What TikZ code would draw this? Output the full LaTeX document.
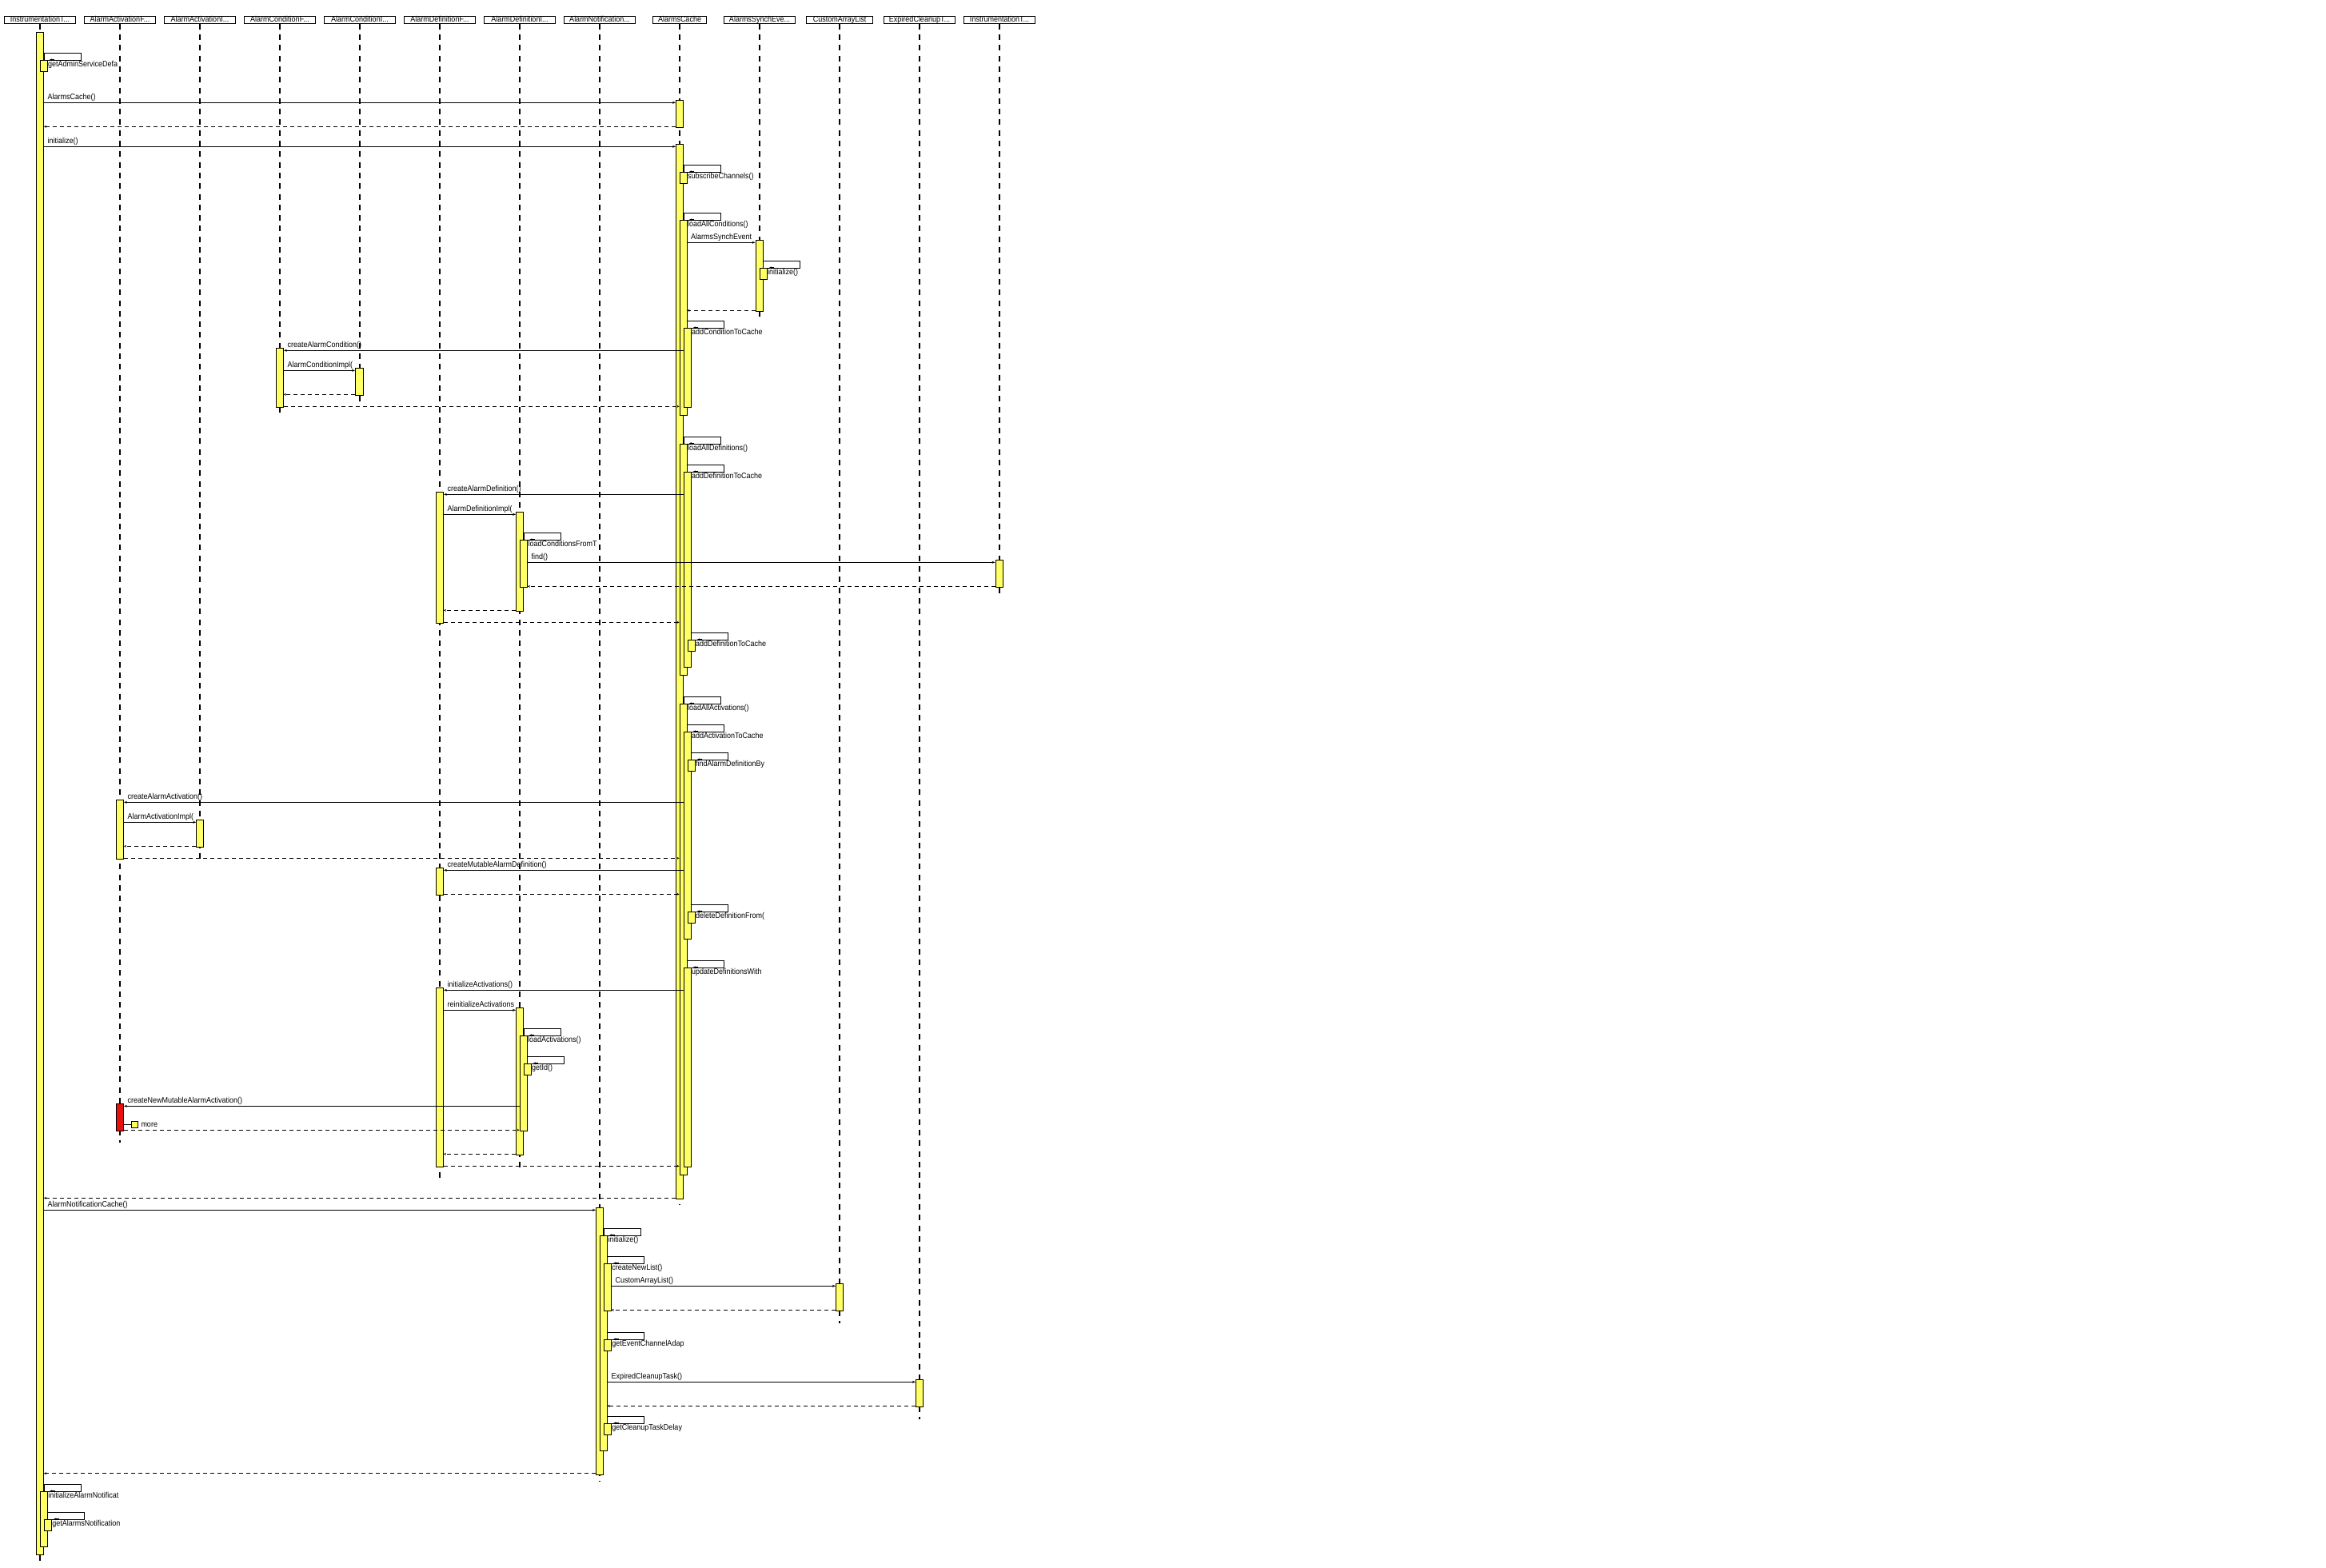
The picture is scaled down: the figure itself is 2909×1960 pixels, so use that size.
\documentclass[tikz,border=0pt]{standalone}
\usepackage{fontspec}
\setmainfont{Liberation Sans}[FakeStretch=0.9]
\usetikzlibrary{arrows.meta,calc,fit}
\definecolor{actyel}{RGB}{255,255,102}
\definecolor{actred}{RGB}{235,16,16}
\tikzset{
 head/.style={draw,line width=0.9pt,inner sep=0pt,minimum height=8.6pt,text height=7.2pt,text depth=1.4pt,font=\fontsize{10}{11}\selectfont,anchor=center},
 life/.style={line width=2pt,dash pattern=on 7pt off 6.3pt},
 act/.style={draw,fill=actyel,line width=0.9pt,inner sep=0pt},
 redact/.style={draw,fill=actred,line width=0.9pt,inner sep=0pt},
 msg/.style={line width=0.9pt,-{Stealth[length=4pt,width=3pt]}},
 ret/.style={line width=1.1pt,dash pattern=on 5pt off 4pt,-{Stealth[length=3pt,width=3pt]}},
 lab/.style={inner sep=0pt,font=\fontsize{10}{11}\selectfont,anchor=base west},
 loopbox/.style={draw,line width=0.9pt},
 looptip/.style={line width=0.9pt,-{Stealth[length=3pt,width=3pt]}}
}
% activation box: [style] name, x1, y1, x2, y2
\newcommand{\actbox}[6][act]{\node[#1,fit={(#3,#4)(#5,#6)}] (#2) {};}
% self call: parent, nested, ytop, text
\newcommand{\selfc}[4]{%
 \draw[loopbox] (#1.east |- 0,#3) rectangle ++(46,9);
 \draw[looptip] ($(#2.north east)+(9,0)$) -- ($(#2.north east)+(2.5,0)$);
 \begin{scope}\clip (#2.north east) rectangle ++(90,13);
 \node[lab] (#2lab) at ($(#2.north east)+(0.5,9)$) {#4};\end{scope}}
% message label: name, xleft, xright, y, text
\newcommand{\mlab}[5]{\begin{scope}\clip (#2,#4-14) rectangle (#3,#4-0.8);
 \node[lab] (#1) at (#2+5,#4-4) {#5};\end{scope}}
\begin{document}
\begin{tikzpicture}[x=1pt,y=-1pt]
\useasboundingbox (0,0) rectangle (2909,1960);
\fill[white] (0,0) rectangle (2909,1960);
% headers
\node[head,minimum width=89.2pt] (h1) at (50,25) {InstrumentationT...};
\node[head,minimum width=89.2pt] (h2) at (150,25) {AlarmActivationF...};
\node[head,minimum width=89.2pt] (h3) at (250,25) {AlarmActivationI...};
\node[head,minimum width=89.2pt] (h4) at (350,25) {AlarmConditionF...};
\node[head,minimum width=89.2pt] (h5) at (450,25) {AlarmConditionI...};
\node[head,minimum width=89.2pt] (h6) at (550,25) {AlarmDefinitionF...};
\node[head,minimum width=89.2pt] (h7) at (650,25) {AlarmDefinitionI...};
\node[head,minimum width=89.2pt] (h8) at (750,25) {AlarmNotification...};
\node[head,minimum width=66.5pt] (h9) at (850,25) {AlarmsCache};
\node[head,minimum width=89.2pt] (h10) at (950,25) {AlarmsSynchEve...};
\node[head,minimum width=83.5pt] (h11) at (1050,25) {CustomArrayList};
\node[head,minimum width=89.2pt] (h12) at (1150,25) {ExpiredCleanupT...};
\node[head,minimum width=89.2pt] (h13) at (1250,25) {InstrumentationT...};
% lifeline ends
\coordinate (e1) at (50,1958);
\coordinate (e2) at (150,1429);
\coordinate (e3) at (250,1074);
\coordinate (e4) at (350,517);
\coordinate (e5) at (450,502);
\coordinate (e6) at (550,1475);
\coordinate (e7) at (650,1460);
\coordinate (e8) at (750,1852);
\coordinate (e9) at (850,1507);
\coordinate (e10) at (950,397);
\coordinate (e11) at (1050,1655);
\coordinate (e12) at (1150,1775);
\coordinate (e13) at (1250,742);
\foreach \i in {1,...,13} {\draw[life] (h\i.south) -- (e\i);}
% activations, level 1
\actbox{itA}{45.5}{40.7}{54.5}{1944.3}
\actbox{acA0}{845.5}{125.3}{854.5}{159.3}
\actbox{acA1}{845.5}{180.3}{854.5}{1499.3}
\actbox{syA}{945}{300.3}{954}{389.3}
\actbox{cfA}{345}{435.3}{354.5}{509.3}
\actbox{ciA}{444.5}{460.3}{454}{494.3}
\actbox{dfA}{545.5}{615.3}{554.5}{779}
\actbox{dfB}{545.5}{1085.3}{554.5}{1119.3}
\actbox{dfC}{545.5}{1235.3}{554.5}{1459.3}
\actbox{diA}{645.5}{640.3}{654.5}{764}
\actbox{diC}{645.5}{1260.3}{654.5}{1444.3}
\actbox{i2A}{1245}{700.3}{1254}{734.3}
\actbox{afA}{145.5}{1000.3}{154.5}{1074.3}
\actbox[redact]{afR}{145.5}{1380.3}{154.5}{1414.3}
\actbox{moreb}{164.3}{1402.3}{172.9}{1410.3}
\actbox{aiA}{245.8}{1025.3}{254.5}{1059.3}
\actbox{nA}{745.5}{1510.3}{754.5}{1844.3}
\actbox{caA}{1045.5}{1605.3}{1054.5}{1639.3}
\actbox{exA}{1145.5}{1725.3}{1154.5}{1759.3}
% level 2
\actbox{itB}{50}{75.3}{59}{89.3}
\actbox{itC}{50.3}{1865.3}{59.3}{1934.3}
\actbox{acSub}{850}{215.3}{859}{229.3}
\actbox{acLC}{850}{275.3}{859}{519.3}
\actbox{acLD}{850}{555}{859}{844.3}
\actbox{acLA}{850}{880.3}{859}{1469.3}
\actbox{syB}{950}{335.3}{959}{349.3}
\actbox{diB}{650}{675.3}{659.5}{734.3}
\actbox{diD}{650}{1295.3}{659}{1414.3}
\actbox{nB}{750.3}{1545.3}{759.3}{1814.3}
% level 3
\actbox{itD}{55.3}{1900.3}{64.3}{1914.3}
\actbox{acAC}{855}{410.3}{864}{509.3}
\actbox{acAD}{855}{590.3}{864}{834.3}
\actbox{acAA}{855}{915.3}{864}{1174.3}
\actbox{acUD}{855}{1210.3}{864}{1459.3}
\actbox{diE}{655}{1330.3}{664}{1344.3}
\actbox{nC}{755.3}{1580.3}{764.3}{1639.3}
\actbox{nD}{755.3}{1675.3}{764.3}{1689.3}
\actbox{nE}{755.3}{1780.3}{764.3}{1794.3}
% level 4
\actbox{acAD2}{860}{800.3}{869}{814.3}
\actbox{acFD}{860}{950.3}{869}{964.3}
\actbox{acDD}{860}{1140.3}{869}{1154.3}
% self calls
\selfc{itA}{itB}{66.3}{getAdminServiceDefa}
\selfc{acA1}{acSub}{206.3}{subscribeChannels()}
\selfc{acA1}{acLC}{266.3}{loadAllConditions()}
\selfc{syA}{syB}{326.3}{initialize()}
\selfc{acLC}{acAC}{401.3}{addConditionToCache}
\selfc{acA1}{acLD}{546}{loadAllDefinitions()}
\selfc{acLD}{acAD}{581.3}{addDefinitionToCache}
\selfc{diA}{diB}{666.3}{loadConditionsFromT}
\selfc{acAD}{acAD2}{791.3}{addDefinitionToCache}
\selfc{acA1}{acLA}{871.3}{loadAllActivations()}
\selfc{acLA}{acAA}{906.3}{addActivationToCache}
\selfc{acAA}{acFD}{941.3}{findAlarmDefinitionBy}
\selfc{acAA}{acDD}{1131.3}{deleteDefinitionFrom(}
\selfc{acLA}{acUD}{1201.3}{updateDefinitionsWith}
\selfc{diC}{diD}{1286.3}{loadActivations()}
\selfc{diD}{diE}{1321.3}{getId()}
\selfc{nA}{nB}{1536.3}{initialize()}
\selfc{nB}{nC}{1571.3}{createNewList()}
\selfc{nB}{nD}{1666.3}{getEventChannelAdap}
\selfc{nB}{nE}{1771.3}{getCleanupTaskDelay}
\selfc{itA}{itC}{1856.3}{initializeAlarmNotificat}
\selfc{itC}{itD}{1891.3}{getAlarmsNotification}
% messages
\draw[msg] (itA.east |- 0,128.3) -- (acA0.west |- 0,128.3);
\mlab{m1}{54.5}{845.5}{128.3}{AlarmsCache()}
\draw[ret] (acA0.west |- 0,158.3) -- (itA.east |- 0,158.3);
\draw[msg] (itA.east |- 0,183.3) -- (acA1.west |- 0,183.3);
\mlab{m2}{54.5}{845.5}{183.3}{initialize()}
\draw[msg] (acLC.east |- 0,303.3) -- (syA.west |- 0,303.3);
\mlab{m3}{859}{945}{303.3}{AlarmsSynchEvent}
\draw[ret] (syA.west |- 0,388.3) -- (acLC.east |- 0,388.3);
\draw[msg] (acAC.west |- 0,438.3) -- (cfA.east |- 0,438.3);
\mlab{m4}{354.5}{855}{438.3}{createAlarmCondition()}
\draw[msg] (cfA.east |- 0,463.3) -- (ciA.west |- 0,463.3);
\mlab{m5}{354.5}{444.5}{463.3}{AlarmConditionImpl(}
\draw[ret] (ciA.west |- 0,493.3) -- (cfA.east |- 0,493.3);
\draw[ret] (cfA.east |- 0,508.3) -- (acLC.west |- 0,508.3);
\draw[msg] (acAD.west |- 0,618.3) -- (dfA.east |- 0,618.3);
\mlab{m6}{554.5}{855}{618.3}{createAlarmDefinition()}
\draw[msg] (dfA.east |- 0,643.3) -- (diA.west |- 0,643.3);
\mlab{m7}{554.5}{645.5}{643.3}{AlarmDefinitionImpl(}
\draw[msg] (diB.east |- 0,703.3) -- (i2A.west |- 0,703.3);
\mlab{m8}{659.5}{1245}{703.3}{find()}
\draw[ret] (i2A.west |- 0,733.3) -- (diB.east |- 0,733.3);
\draw[ret] (diA.west |- 0,763.3) -- (dfA.east |- 0,763.3);
\draw[ret] (dfA.east |- 0,778.3) -- (acLD.west |- 0,778.3);
\draw[msg] (acAA.west |- 0,1003.3) -- (afA.east |- 0,1003.3);
\mlab{m9}{154.5}{855}{1003.3}{createAlarmActivation()}
\draw[msg] (afA.east |- 0,1028.3) -- (aiA.west |- 0,1028.3);
\mlab{m10}{154.5}{245.8}{1028.3}{AlarmActivationImpl(}
\draw[ret] (aiA.west |- 0,1058.3) -- (afA.east |- 0,1058.3);
\draw[ret] (afA.east |- 0,1073.3) -- (acLA.west |- 0,1073.3);
\draw[msg] (acAA.west |- 0,1088.3) -- (dfB.east |- 0,1088.3);
\mlab{m11}{554.5}{855}{1088.3}{createMutableAlarmDefinition()}
\draw[ret] (dfB.east |- 0,1118.3) -- (acLA.west |- 0,1118.3);
\draw[msg] (acUD.west |- 0,1238.3) -- (dfC.east |- 0,1238.3);
\mlab{m12}{554.5}{855}{1238.3}{initializeActivations()}
\draw[msg] (dfC.east |- 0,1263.3) -- (diC.west |- 0,1263.3);
\mlab{m13}{554.5}{645.5}{1263.3}{reinitializeActivations}
\draw[msg] (diD.west |- 0,1383.3) -- (afR.east |- 0,1383.3);
\mlab{m14}{154.5}{650}{1383.3}{createNewMutableAlarmActivation()}
\draw[line width=0.9pt] (afR.east |- moreb.west) -- (moreb.west);
\node[lab] (morel) at (176.3,1409.5) {more};
\draw[ret] (afR.east |- 0,1413.3) -- (diD.west |- 0,1413.3);
\draw[ret] (diC.west |- 0,1443.3) -- (dfC.east |- 0,1443.3);
\draw[ret] (dfC.east |- 0,1458.3) -- (acLA.west |- 0,1458.3);
\draw[ret] (acA1.west |- 0,1498.3) -- (itA.east |- 0,1498.3);
\draw[msg] (itA.east |- 0,1513.3) -- (nA.west |- 0,1513.3);
\mlab{m15}{54.5}{745.5}{1513.3}{AlarmNotificationCache()}
\draw[msg] (nC.east |- 0,1608.3) -- (caA.west |- 0,1608.3);
\mlab{m16}{764.3}{1045.5}{1608.3}{CustomArrayList()}
\draw[ret] (caA.west |- 0,1638.3) -- (nC.east |- 0,1638.3);
\draw[msg] (nB.east |- 0,1728.3) -- (exA.west |- 0,1728.3);
\mlab{m17}{759.3}{1145.5}{1728.3}{ExpiredCleanupTask()}
\draw[ret] (exA.west |- 0,1758.3) -- (nB.east |- 0,1758.3);
\draw[ret] (nA.west |- 0,1842.7) -- (itA.east |- 0,1842.7);
\end{tikzpicture}
\end{document}
